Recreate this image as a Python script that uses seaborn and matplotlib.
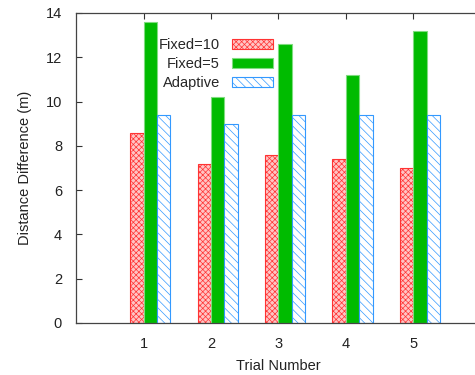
import matplotlib
matplotlib.use("Agg")
import matplotlib.pyplot as plt
import seaborn as sns
import pandas as pd

trials = [1, 2, 3, 4, 5]
series = ["Fixed=10", "Fixed=5", "Adaptive"]
fixed10 = [8.6, 7.2, 7.6, 7.4, 7.0]
fixed5 = [13.6, 10.2, 12.6, 11.2, 13.2]
adaptive = [9.4, 9.0, 9.4, 9.4, 9.4]

rows = []
for name, vals in zip(series, [fixed10, fixed5, adaptive]):
    for t, v in zip(trials, vals):
        rows.append({"pos": t + 0.1, "trial": t, "series": name, "value": v})
df = pd.DataFrame(rows)

sns.set_style("white")
plt.rcParams["font.family"] = ["Liberation Sans", "DejaVu Sans"]
plt.rcParams["font.size"] = 10.5
plt.rcParams["hatch.linewidth"] = 0.5

fig = plt.figure(figsize=(4.75, 3.75), dpi=100)
W, H = 475, 375
ax = fig.add_axes([76 / W, (H - 323) / H, (481 - 76) / W, 310 / H])

face = {"Fixed=10": "#ffc4c4", "Fixed=5": "#00bb00", "Adaptive": "#ffffff"}
edge = {"Fixed=10": "#ff3333", "Fixed=5": "#7fdc7f", "Adaptive": "#3399ff"}
hatch = {"Fixed=10": "xxxxxx", "Fixed=5": "", "Adaptive": "\\\\\\\\"}

sns.barplot(data=df, x="pos", y="value", hue="series", hue_order=series,
            native_scale=True, width=0.6, gap=0, palette=face, legend=False,
            ax=ax, errorbar=None, saturation=1)

handles = []
for name, cont in zip(series, ax.containers):
    for p in cont.patches:
        p.set_facecolor(face[name])
        p.set_edgecolor(edge[name])
        p.set_hatch(hatch[name])
        p.set_linewidth(0.8)
    handles.append(cont.patches[0])

ax.set_xlim(0, 6)
ax.set_ylim(0, 14)
ax.set_xticks(trials)
ax.set_xticklabels([str(t) for t in trials])
ax.set_yticks([0, 2, 4, 6, 8, 10, 12, 14])
ax.tick_params(axis="both", direction="in", length=4, width=0.8, colors="#333333",
               labelcolor="#222222", labelsize=10.5)
ax.tick_params(axis="x", pad=10, top=True, bottom=True)
ax.tick_params(axis="y", pad=10, left=True, right=True)
for s in ax.spines.values():
    s.set_color("#444444")
    s.set_linewidth(0.9)
ax.set_xlabel("Trial Number", fontsize=10.5, color="#222222", labelpad=6)
ax.set_ylabel("Distance Difference (m)", fontsize=10.5, color="#222222", labelpad=10)

leg = ax.legend(handles, series, loc="center", bbox_to_anchor=(0.345, 0.835),
                frameon=False, markerfirst=False, handlelength=2.8,
                handleheight=0.7, labelspacing=0.35, fontsize=10.5,
                handletextpad=0.8)

fig.savefig("out.png", dpi=100)
